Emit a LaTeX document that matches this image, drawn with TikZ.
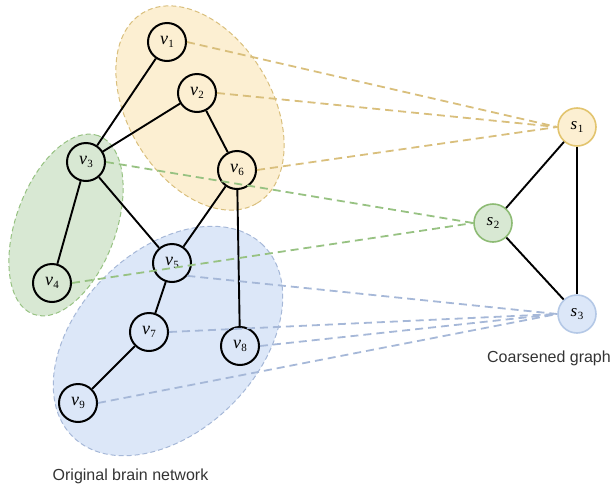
\documentclass[tikz,border=0pt]{standalone}
\usepackage{fontspec}
\setmainfont{Liberation Serif}
\newfontfamily\capfont{Liberation Sans}
\definecolor{yfill}{HTML}{FCEFD2}
\definecolor{ydraw}{HTML}{D9BF7C}
\definecolor{ynode}{HTML}{E2C46E}
\definecolor{gfill}{HTML}{D8E8D3}
\definecolor{gdraw}{HTML}{97C282}
\definecolor{gnode}{HTML}{8DBB74}
\definecolor{bfill}{HTML}{DCE7F8}
\definecolor{bdraw}{HTML}{A6B8D8}
\definecolor{bnode}{HTML}{B4C8E6}
\definecolor{captxt}{HTML}{333333}
\newcommand\vlab[1]{\textit{v}\kern0.5pt\raisebox{-0.45ex}{\fontsize{11}{11}\selectfont #1}}
\newcommand\slab[1]{\textit{s}\kern0.5pt\raisebox{-0.45ex}{\fontsize{11}{11}\selectfont #1}}
\begin{document}
\begin{tikzpicture}[x=1pt,y=1pt,
  vnode/.style={circle, draw=black, line width=2pt, minimum size=38pt, inner sep=0pt, font=\fontsize{18}{18}\selectfont},
  snode/.style={circle, line width=1.6pt, minimum size=38pt, inner sep=0pt, font=\fontsize{17}{17}\selectfont},
  edge/.style={draw=black, line width=1.9pt},
  link/.style={line width=1.8pt, dash pattern=on 8pt off 5pt},
  region/.style={line width=1pt, dash pattern=on 5pt off 3pt},
  caption/.style={font=\capfont\fontsize{16}{16}\selectfont, text=captxt, inner sep=0pt}]
\useasboundingbox (0,0) rectangle (614,-488);
% regions
\draw[region, fill=yfill, draw=ydraw, rotate around={-59:(200,-108)}] (200,-108) ellipse [x radius=111, y radius=72];
\draw[region, fill=gfill, draw=gdraw, rotate around={70:(66,-225)}] (66,-225) ellipse [x radius=95, y radius=50];
\draw[region, fill=bfill, draw=bdraw, rotate around={45:(168,-341)}] (168,-341) ellipse [x radius=135, y radius=90];
% nodes
\node[vnode] (v1) at (167,-42) {\vlab{1}};
\node[vnode] (v2) at (197,-93) {\vlab{2}};
\node[vnode] (v3) at (86,-162) {\vlab{3}};
\node[vnode] (v4) at (52,-283) {\vlab{4}};
\node[vnode] (v5) at (172,-263) {\vlab{5}};
\node[vnode] (v6) at (237,-170) {\vlab{6}};
\node[vnode] (v7) at (149,-332) {\vlab{7}};
\node[vnode] (v8) at (240,-346) {\vlab{8}};
\node[vnode] (v9) at (78,-403) {\vlab{9}};
\node[snode, draw=ynode, fill=yfill] (s1) at (577,-127) {\slab{1}};
\node[snode, draw=gnode, fill=gfill] (s2) at (493,-223) {\slab{2}};
\node[snode, draw=bnode, fill=bfill] (s3) at (577,-314) {\slab{3}};
% edges
\draw[edge] (v1) -- (v3);
\draw[edge] (v2) -- (v3);
\draw[edge] (v2) -- (v6);
\draw[edge] (v3) -- (v4);
\draw[edge] (v3) -- (v5);
\draw[edge] (v6) -- (v5);
\draw[edge] (v6) -- (v8);
\draw[edge] (v5) -- (v7);
\draw[edge] (v7) -- (v9);
\draw[edge] (s1) -- (s2);
\draw[edge] (s1) -- (s3);
\draw[edge] (s2) -- (s3);
% mapping links
\draw[link, draw=ydraw] (v1.east) -- (s1.west);
\draw[link, draw=ydraw] (v2.east) -- (s1.west);
\draw[link, draw=ydraw] (v6.east) -- (s1.west);
\draw[link, draw=gdraw] (v3.east) -- (s2.west);
\draw[link, draw=gdraw] (v4.east) -- (s2.west);
\draw[link, draw=bdraw] (v5.-40) -- (s3.west);
\draw[link, draw=bdraw] (v7.east) -- (s3.west);
\draw[link, draw=bdraw] (v8.east) -- (s3.west);
\draw[link, draw=bdraw] (v9.east) -- (s3.west);
% captions
\node[caption] (cg) at (549,-358) {Coarsened graph};
\node[caption] (ob) at (130.5,-476) {Original brain network};
\end{tikzpicture}
\end{document}
